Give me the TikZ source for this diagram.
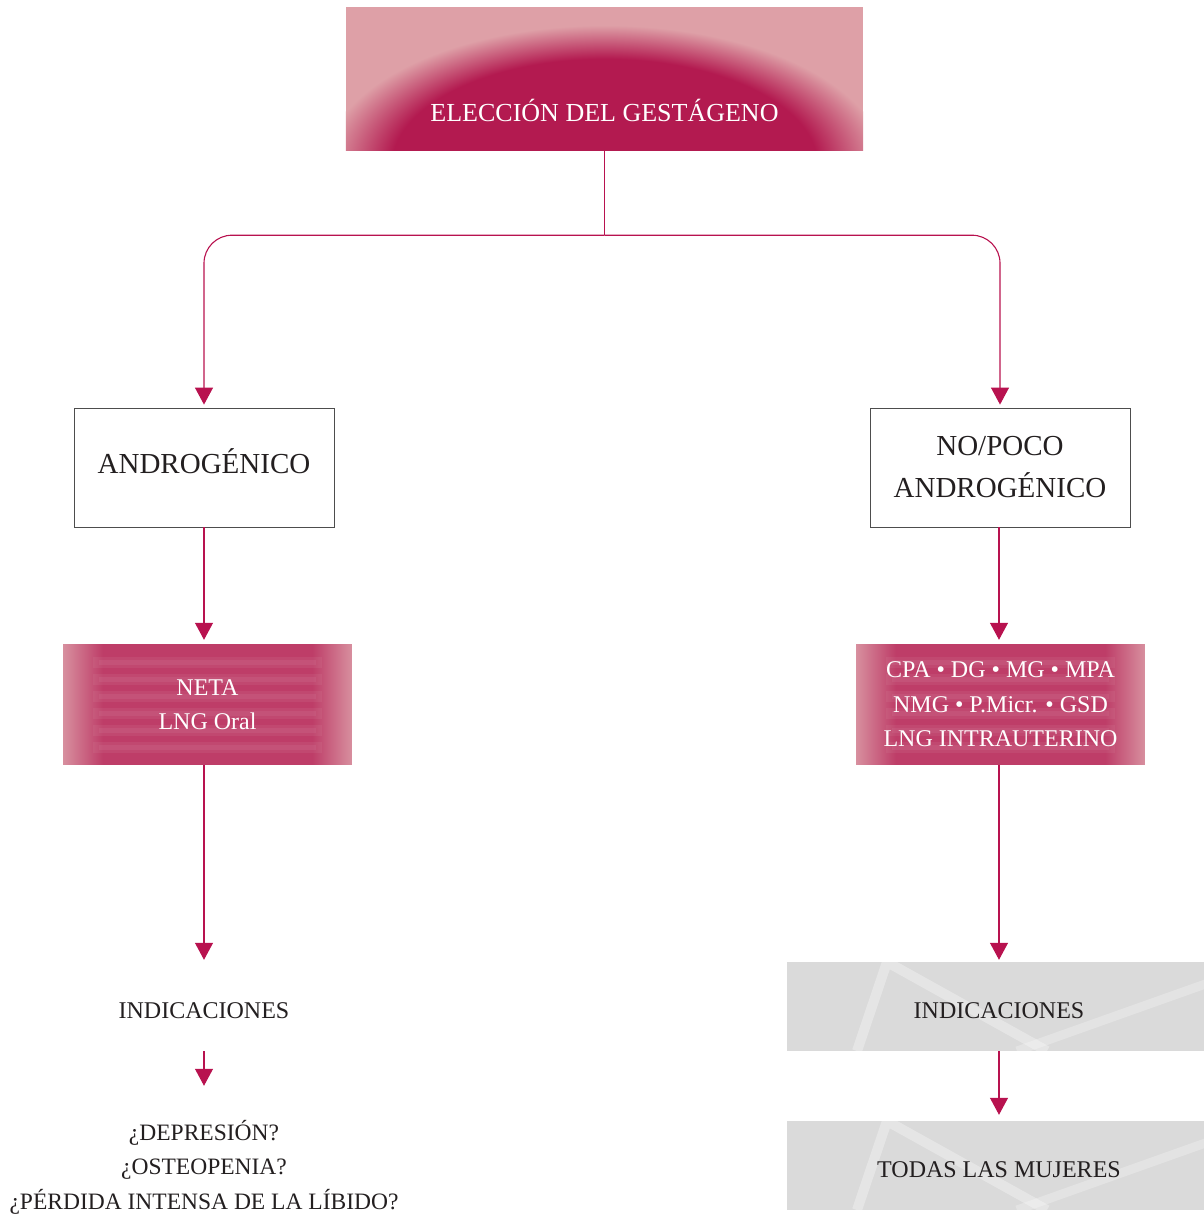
\documentclass[tikz,border=0pt]{standalone}
\usepackage{fontspec}
\setmainfont{Liberation Serif}
\usetikzlibrary{arrows.meta, positioning, backgrounds, fadings}
\definecolor{magdark}{HTML}{B31A50}
\definecolor{pinklight}{HTML}{DEA0A7}
\definecolor{linemag}{HTML}{B8124F}
\definecolor{magbase}{HTML}{BE3D68}
\definecolor{edgepink}{HTML}{D8909F}
\definecolor{graytex}{HTML}{DADADA}
\definecolor{framegray}{HTML}{4D4D4D}
\definecolor{inkgray}{HTML}{231F20}
\pgfdeclareradialshading{titleglow}{\pgfpoint{0bp}{0bp}}{color(0bp)=(magdark); color(19bp)=(magdark); color(25bp)=(pinklight); color(50bp)=(pinklight)}

\begin{document}
\begin{tikzpicture}[
    x=1pt, y=-1pt,
    every node/.style={font=\fontsize{24}{34.5}\selectfont, text=inkgray, align=center, inner sep=0pt},
    headbox/.style={minimum width=517pt, minimum height=143pt, text=white,
        font=\fontsize{26}{30}\selectfont, text height=85pt, text depth=0pt},
    choicebox/.style={draw=framegray, line width=0.8pt, minimum width=260pt, minimum height=119pt,
        font=\fontsize{29}{42}\selectfont},
    drugbox/.style={minimum width=289pt, minimum height=121pt, text=white,
        path picture={
            \fill[magbase] (path picture bounding box.north west) rectangle (path picture bounding box.south east);
            \foreach \s in {18,35,...,104} {
                \draw[white, opacity=0.06, line width=11pt] ([xshift=30pt, yshift=-\s pt]path picture bounding box.north west) -- ([xshift=-30pt, yshift=-\s pt]path picture bounding box.north east);
                \draw[white, opacity=0.06, line width=5pt] ([xshift=36pt, yshift=-\s pt]path picture bounding box.north west) -- ([xshift=-36pt, yshift=-\s pt]path picture bounding box.north east);
            }
            \fill[edgepink, path fading=east] (path picture bounding box.north west) rectangle ([xshift=40pt]path picture bounding box.south west);
            \fill[edgepink, path fading=west] ([xshift=-40pt]path picture bounding box.north east) rectangle (path picture bounding box.south east);
        }},
    indbox/.style={minimum width=424pt, minimum height=89pt, text height=24pt, text depth=0pt,
        path picture={
            \fill[graytex] (path picture bounding box.north west) rectangle (path picture bounding box.south east);
            \draw[white, opacity=0.3, line width=10pt]
                ([xshift=70pt]path picture bounding box.south west) -- ([xshift=100pt]path picture bounding box.north west)
                -- ([xshift=260pt]path picture bounding box.south west);
            \draw[white, opacity=0.25, line width=9pt]
                ([yshift=-20pt]path picture bounding box.north east) -- ([xshift=230pt]path picture bounding box.south west);
        }},
    plainbox/.style={minimum width=260pt, minimum height=89pt, text height=24pt, text depth=0pt},
    link/.style={draw=linemag, line width=1.1pt},
    flow/.style={link, -{Triangle[width=18pt, length=17pt]}}
]
    \useasboundingbox (0,0) rectangle (1203,1218);

    % Top choice
    \node[headbox] (head) at (604.5,78.5) {ELECCIÓN DEL GESTÁGENO};
    \begin{scope}[on background layer]
        \clip (head.north west) rectangle (head.south east);
        \fill[pinklight] (head.north west) rectangle (head.south east);
        \shade[shading=titleglow] ([yshift=-15pt]head.south) ellipse [x radius=280pt, y radius=140pt];
    \end{scope}

    % Two families
    \node[choicebox, text height=20pt, text depth=8pt] (andro) at (204,467.5) {ANDROGÉNICO};
    \node[choicebox] (nopoco) at (1000,467.5) {NO/POCO\\ANDROGÉNICO};

    % Progestagens of each family
    \node[drugbox] (neta) at (207.5,704.5) {NETA\\LNG Oral};
    \node[drugbox] (prog) at (1000.5,704.5) {CPA • DG • MG • MPA\\NMG • P.Micr. • GSD\\LNG INTRAUTERINO};

    % Indications
    \node[plainbox] (leftind) at (204,1006.5) {INDICACIONES};
    \node[align=center, font=\fontsize{23.5}{34.5}\selectfont] (leftq) at (204,1167) {¿DEPRESIÓN?\\¿OSTEOPENIA?\\¿PÉRDIDA INTENSA DE LA LÍBIDO?};
    \node[indbox] (rightind) at (999,1006.5) {INDICACIONES};
    \node[indbox] (rightall) at (999,1165.5) {TODAS LAS MUJERES};

    % Branching from the top box
    \coordinate (split) at ([yshift=-85pt]head.south);
    \draw[link] (head.south) -- (split);
    \draw[flow, rounded corners=28pt, shorten >=3pt] (split) -| (andro.north);
    \draw[flow, rounded corners=28pt, shorten >=3pt] (split) -| (nopoco.north);

    % Left column
    \draw[flow, shorten >=4pt] (andro.south) -- (andro.south |- neta.north);
    \draw[flow, shorten >=2pt] (andro.south |- neta.south) -- (leftind.north);
    \draw[flow, shorten >=34pt] (leftind.south) -- (leftind.south |- leftq.north);

    % Right column
    \draw[flow, shorten >=4pt] (rightind.north |- nopoco.south) -- (rightind.north |- prog.north);
    \draw[flow, shorten >=2pt] (rightind.north |- prog.south) -- (rightind.north);
    \draw[flow, shorten >=6pt] (rightind.south) -- (rightall.north);

\end{tikzpicture}
\end{document}
